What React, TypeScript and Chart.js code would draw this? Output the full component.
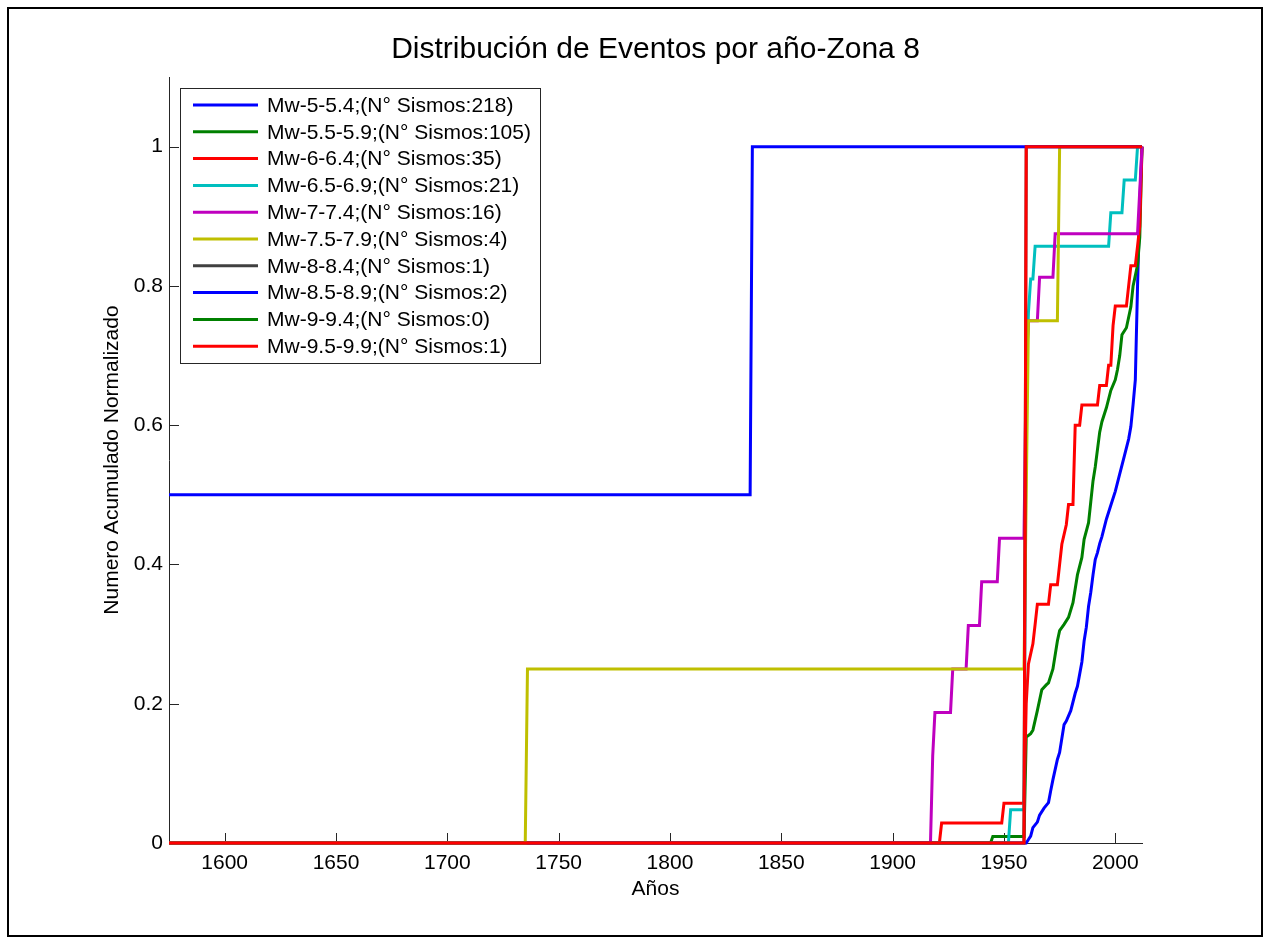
import React, { useEffect, useRef } from "react";
import { Chart, registerables } from "chart.js";

Chart.register(...registerables);

const chartTitle = "Distribución de Eventos por año-Zona 8";
const xAxisTitle = "Años";
const yAxisTitle = "Numero Acumulado Normalizado";

const xMin = 1575;
const xMax = 2012;
const yMin = 0;
const yMax = 1.1;
const xTicks = [1600, 1650, 1700, 1750, 1800, 1850, 1900, 1950, 2000];
const yTicks = [0, 0.2, 0.4, 0.6, 0.8, 1];

const seriesLabels = [
  "Mw-5-5.4;(N° Sismos:218)",
  "Mw-5.5-5.9;(N° Sismos:105)",
  "Mw-6-6.4;(N° Sismos:35)",
  "Mw-6.5-6.9;(N° Sismos:21)",
  "Mw-7-7.4;(N° Sismos:16)",
  "Mw-7.5-7.9;(N° Sismos:4)",
  "Mw-8-8.4;(N° Sismos:1)",
  "Mw-8.5-8.9;(N° Sismos:2)",
  "Mw-9-9.4;(N° Sismos:0)",
  "Mw-9.5-9.9;(N° Sismos:1)",
];

const seriesColors = [
  "#0000FF",
  "#008000",
  "#FF0000",
  "#00BFBF",
  "#BF00BF",
  "#BFBF00",
  "#404040",
  "#0000FF",
  "#008000",
  "#FF0000",
];

// [year, cumulative normalized count]
const mw50: [number, number][] = [
  [1575, 0], [1960, 0], [1961, 0.005], [1962, 0.01], [1963, 0.022], [1965, 0.03],
  [1966, 0.04], [1968, 0.05], [1970, 0.058], [1971, 0.075], [1972, 0.091], [1974, 0.12],
  [1975, 0.13], [1977, 0.17], [1978, 0.175], [1980, 0.19], [1982, 0.215], [1983, 0.225],
  [1985, 0.26], [1986, 0.29], [1987, 0.31], [1988, 0.34], [1989, 0.36], [1990, 0.385],
  [1991, 0.407], [1992, 0.417], [1993, 0.43], [1994, 0.44], [1996, 0.465], [1998, 0.485],
  [2000, 0.505], [2002, 0.53], [2004, 0.555], [2006, 0.58], [2007, 0.598], [2008, 0.63],
  [2009, 0.665], [2010, 0.8], [2011, 0.92], [2012, 1],
];

const mw55: [number, number][] = [
  [1575, 0], [1944, 0], [1945, 0.0095], [1959, 0.0095], [1960, 0.152], [1962, 0.157],
  [1963, 0.162], [1965, 0.19], [1967, 0.22], [1969, 0.227], [1970, 0.23], [1972, 0.25],
  [1974, 0.29], [1975, 0.305], [1977, 0.314], [1979, 0.324], [1981, 0.345], [1983, 0.385],
  [1985, 0.41], [1986, 0.436], [1988, 0.46], [1989, 0.49], [1990, 0.52], [1991, 0.54],
  [1993, 0.59], [1994, 0.605], [1996, 0.625], [1998, 0.65], [2000, 0.665], [2001, 0.68],
  [2002, 0.7], [2003, 0.73], [2005, 0.74], [2007, 0.77], [2008, 0.8], [2010, 0.83],
  [2011, 0.87], [2012, 1],
];

const mw60: [number, number][] = [
  [1575, 0], [1921, 0], [1922, 0.0286], [1949, 0.0286], [1950, 0.0571], [1959, 0.0571],
  [1960, 0.2], [1961, 0.257], [1963, 0.286], [1964, 0.314], [1965, 0.343], [1970, 0.343],
  [1971, 0.371], [1974, 0.371], [1975, 0.4], [1976, 0.429], [1978, 0.457], [1979, 0.486],
  [1981, 0.486], [1982, 0.6], [1984, 0.6], [1985, 0.629], [1992, 0.629], [1993, 0.657],
  [1996, 0.657], [1997, 0.686], [1998, 0.686], [1999, 0.743], [2000, 0.771], [2005, 0.771],
  [2006, 0.8], [2007, 0.829], [2009, 0.829], [2010, 0.857], [2011, 0.886], [2012, 1],
];

const mw65: [number, number][] = [
  [1575, 0], [1952, 0], [1953, 0.0476], [1959, 0.0476], [1960, 0.667], [1961, 0.762],
  [1962, 0.81], [1963, 0.81], [1964, 0.857], [1997, 0.857], [1998, 0.905], [2003, 0.905],
  [2004, 0.952], [2009, 0.952], [2010, 1], [2012, 1],
];

const mw70: [number, number][] = [
  [1575, 0], [1917, 0], [1918, 0.125], [1919, 0.1875], [1926, 0.1875], [1927, 0.25],
  [1933, 0.25], [1934, 0.3125], [1939, 0.3125], [1940, 0.375], [1947, 0.375], [1948, 0.4375],
  [1959, 0.4375], [1960, 0.6875], [1961, 0.75], [1965, 0.75], [1966, 0.8125], [1972, 0.8125],
  [1973, 0.875], [2010, 0.875], [2011, 0.9375], [2012, 1],
];

const mw75: [number, number][] = [
  [1575, 0], [1735, 0], [1736, 0.25], [1959, 0.25], [1960, 0.5], [1961, 0.75],
  [1974, 0.75], [1975, 1], [2012, 1],
];

const mw80: [number, number][] = [
  [1575, 0], [1959, 0], [1960, 1], [2012, 1],
];

const mw85: [number, number][] = [
  [1575, 0.5], [1836, 0.5], [1837, 1], [2012, 1],
];

const mw90: [number, number][] = [];

const mw95: [number, number][] = [
  [1575, 0], [1959, 0], [1960, 1], [2012, 1],
];

const seriesData = [mw50, mw55, mw60, mw65, mw70, mw75, mw80, mw85, mw90, mw95];

const FONT = '"Liberation Sans", Arial, Helvetica, sans-serif';

const decorPlugin = {
  id: "decor",
  beforeDatasetsDraw(chart: any) {
    const { ctx, chartArea, scales } = chart;
    const xs = scales.x;
    const ys = scales.y;
    ctx.save();
    ctx.strokeStyle = "#262626";
    ctx.lineWidth = 1;
    ctx.beginPath();
    for (const t of xTicks) {
      const px = Math.round(xs.getPixelForValue(t)) + 0.5;
      ctx.moveTo(px, chartArea.bottom);
      ctx.lineTo(px, chartArea.bottom - 10);
    }
    for (const t of yTicks) {
      const py = Math.round(ys.getPixelForValue(t)) + 0.5;
      ctx.moveTo(chartArea.left, py);
      ctx.lineTo(chartArea.left + 10, py);
    }
    ctx.stroke();
    ctx.restore();
  },
  afterDraw(chart: any) {
    const { ctx, chartArea } = chart;
    ctx.save();
    // title
    ctx.fillStyle = "#000";
    ctx.font = `30px ${FONT}`;
    ctx.textAlign = "center";
    ctx.textBaseline = "middle";
    ctx.fillText(chartTitle, (chartArea.left + chartArea.right) / 2, 50);

    // legend box
    const bx = 180.5;
    const by = 88.5;
    const bw = 360;
    const bh = 275;
    ctx.fillStyle = "#fff";
    ctx.fillRect(bx, by, bw, bh);
    ctx.strokeStyle = "#262626";
    ctx.lineWidth = 1;
    ctx.strokeRect(bx, by, bw, bh);
    ctx.font = `21px ${FONT}`;
    ctx.textAlign = "left";
    ctx.textBaseline = "middle";
    seriesLabels.forEach((label, i) => {
      const y = 105 + i * 26.8;
      ctx.strokeStyle = seriesColors[i];
      ctx.lineWidth = 3;
      ctx.beginPath();
      ctx.moveTo(193, y);
      ctx.lineTo(258, y);
      ctx.stroke();
      ctx.fillStyle = "#000";
      ctx.fillText(label, 267, y + 1);
    });
    ctx.restore();
  },
};

export default function App() {
  const canvasRef = useRef<HTMLCanvasElement | null>(null);

  useEffect(() => {
    const canvas = canvasRef.current;
    if (!canvas) return;
    Chart.defaults.font.family = FONT;
    Chart.defaults.color = "#000";

    const datasets = seriesData.map((pts, i) => ({
      label: seriesLabels[i],
      data: pts.map(([x, y]) => ({ x, y })),
      borderColor: seriesColors[i],
      backgroundColor: seriesColors[i],
      borderWidth: 3,
      pointRadius: 0,
      pointHoverRadius: 0,
      fill: false,
      tension: 0,
      clip: false as any,
      order: seriesData.length - i,
    }));

    const chart = new Chart(canvas, {
      type: "line",
      data: { datasets },
      options: {
        animation: false,
        responsive: false,
        devicePixelRatio: 1,
        events: [],
        layout: { padding: { left: 0, right: 122, top: 77, bottom: 0 } },
        plugins: {
          legend: { display: false },
          title: { display: false },
          tooltip: { enabled: false },
        },
        scales: {
          x: {
            type: "linear",
            min: xMin,
            max: xMax,
            grid: { display: false, drawTicks: false },
            border: { display: true, color: "#262626", width: 1 },
            ticks: {
              autoSkip: false,
              maxRotation: 0,
              padding: 8,
              font: { size: 21 },
              color: "#000",
              callback: (v: any) => String(v),
            },
            afterBuildTicks: (scale: any) => {
              scale.ticks = xTicks.map((v) => ({ value: v }));
            },
            afterFit: (scale: any) => {
              scale.height = 101;
            },
            title: {
              display: true,
              text: xAxisTitle,
              font: { size: 21 },
              color: "#000",
              padding: { top: 0, bottom: 42 },
            },
          },
          y: {
            type: "linear",
            min: yMin,
            max: yMax,
            grid: { display: false, drawTicks: false },
            border: { display: true, color: "#262626", width: 1 },
            ticks: {
              autoSkip: false,
              padding: 6,
              font: { size: 21 },
              color: "#000",
              callback: (v: any) => String(v),
            },
            afterBuildTicks: (scale: any) => {
              scale.ticks = yTicks.map((v) => ({ value: v }));
            },
            afterFit: (scale: any) => {
              scale.width = 169;
            },
            title: {
              display: true,
              text: yAxisTitle,
              font: { size: 21 },
              color: "#000",
              padding: { top: 100, bottom: 0 },
            },
          },
        },
      },
      plugins: [decorPlugin],
    });

    return () => {
      chart.destroy();
    };
  }, []);

  return (
    <div
      style={{
        position: "fixed",
        left: 0,
        top: 0,
        width: 1264,
        height: 944,
        background: "#fff",
      }}
    >
      <div
        style={{
          position: "absolute",
          left: 7,
          top: 7,
          width: 1256,
          height: 930,
          border: "2px solid #000",
          boxSizing: "border-box",
        }}
      />
      <canvas
        ref={canvasRef}
        width={1264}
        height={944}
        style={{ position: "absolute", left: 0, top: 0, width: 1264, height: 944 }}
      />
    </div>
  );
}
